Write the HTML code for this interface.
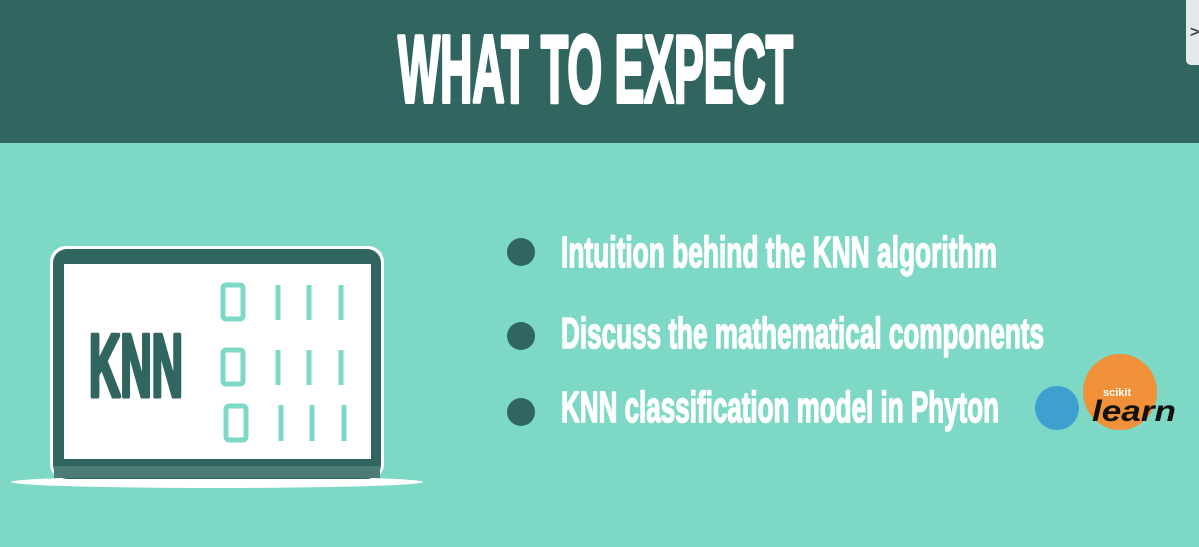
<!DOCTYPE html>
<html><head><meta charset="utf-8"><style>
html,body{margin:0;padding:0;width:1199px;height:547px;overflow:hidden;background:#7dd8c6}
svg{display:block}
text{font-family:"Liberation Sans",sans-serif;font-weight:bold}
</style></head><body>
<svg width="1199" height="547" viewBox="0 0 1199 547">
<rect x="0" y="0" width="1199" height="547" fill="#7dd8c6"/>
<rect x="0" y="0" width="1199" height="143" fill="#316660"/>
<text x="398" y="102" font-size="96" fill="#fff" stroke="#fff" stroke-width="4" stroke-linejoin="round" textLength="395" lengthAdjust="spacingAndGlyphs">WHAT TO EXPECT</text>
<g>
<rect x="1186" y="-6" width="20" height="71" rx="5" fill="#e6e8ea"/>
<text x="1190" y="37" font-size="16" font-weight="normal" fill="#444">&gt;</text>
</g>
<g>
<ellipse cx="217" cy="482" rx="206" ry="6" fill="#fff"/>
<rect x="50" y="246" width="334" height="234" rx="16" fill="#fff"/>
<rect x="53" y="249" width="328" height="230" rx="14" fill="#316660"/>
<rect x="54" y="466" width="326" height="12" fill="#4d7b76"/>
<rect x="64" y="264" width="307" height="195" fill="#fff"/>
<text x="89" y="396" font-size="88" fill="#316660" stroke="#316660" stroke-width="5" stroke-linejoin="round" textLength="94" lengthAdjust="spacingAndGlyphs">KNN</text>
<g fill="none" stroke="#7dd8c6" stroke-width="5">
<rect x="223" y="285" width="20" height="34" rx="3"/>
<line x1="278" y1="285" x2="278" y2="320"/><line x1="309" y1="285" x2="309" y2="320"/><line x1="341" y1="285" x2="341" y2="320"/>
<rect x="223" y="350" width="20" height="34" rx="3"/>
<line x1="278" y1="350" x2="278" y2="385"/><line x1="309" y1="350" x2="309" y2="385"/><line x1="341" y1="350" x2="341" y2="385"/>
<rect x="226" y="406" width="20" height="34" rx="3"/>
<line x1="281" y1="405" x2="281" y2="441"/><line x1="312" y1="405" x2="312" y2="441"/><line x1="344" y1="405" x2="344" y2="441"/>
</g>
</g>
<g>
<circle cx="521" cy="252" r="14" fill="#316660"/>
<text x="561" y="267" font-size="44" fill="#fff" stroke="#fff" stroke-width="1.6" stroke-linejoin="round" textLength="436" lengthAdjust="spacingAndGlyphs">Intuition behind the KNN algorithm</text>
<circle cx="521" cy="336" r="14" fill="#316660"/>
<text x="561" y="348" font-size="44" fill="#fff" stroke="#fff" stroke-width="1.6" stroke-linejoin="round" textLength="483" lengthAdjust="spacingAndGlyphs">Discuss the mathematical components</text>
<circle cx="521" cy="412" r="14" fill="#316660"/>
<text x="561" y="422" font-size="44" fill="#fff" stroke="#fff" stroke-width="1.6" stroke-linejoin="round" textLength="438" lengthAdjust="spacingAndGlyphs">KNN classification model in Phyton</text>
</g>
<g>
<ellipse cx="1057" cy="408" rx="22" ry="22" fill="#3e9fd1"/>
<ellipse cx="1120" cy="392" rx="37" ry="38" fill="#f0913a"/>
<text x="1103" y="396" font-size="11" font-weight="normal" fill="#fff">scikit</text>
<text x="1092" y="421" font-size="30" font-style="italic" fill="#111" font-family="Liberation Serif,serif" textLength="84" lengthAdjust="spacingAndGlyphs">learn</text>
</g>
</svg>
</body></html>
